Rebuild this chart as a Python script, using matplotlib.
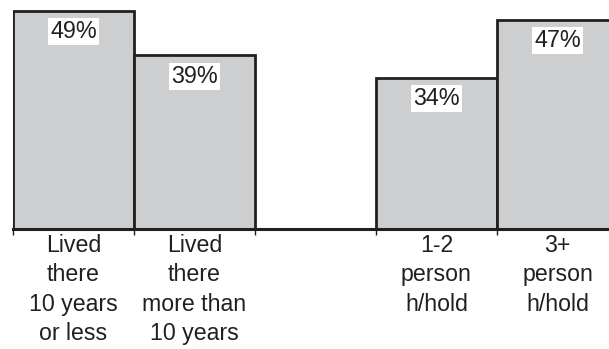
import matplotlib
matplotlib.use("Agg")
import matplotlib.pyplot as plt

# Share of respondents by group
categories = [
    "Lived\nthere\n10 years\nor less",
    "Lived\nthere\nmore than\n10 years",
    "1-2\nperson\nh/hold",
    "3+\nperson\nh/hold",
]
values = [49, 39, 34, 47]
positions = [0, 1, 3, 4]  # slot 2 left empty as a gap between the two groups

ink = "#231f20"
fill = "#cdced0"

plt.rcParams["font.family"] = ["Liberation Sans", "DejaVu Sans"]

fig = plt.figure(figsize=(6.09, 3.49), dpi=100)
W, H = 609, 349
ax = fig.add_axes([13 / W, 120 / H, 605 / W, 229 / H])

ax.bar(positions, values, width=1.0, align="edge", color=fill,
       edgecolor=ink, linewidth=2.0)

ax.set_xlim(0, 5)
ax.set_ylim(0, 51.46)

for s in ("left", "right", "top"):
    ax.spines[s].set_visible(False)
ax.spines["bottom"].set_color(ink)
ax.spines["bottom"].set_linewidth(2.2)

ax.set_yticks([])
ax.set_xticks([0, 1, 2, 3, 4])
ax.set_xticklabels([])
ax.tick_params(axis="x", length=4, width=1.0, color=ink, direction="out")

for p, v, lab in zip(positions, values, categories):
    ax.annotate(f"{v}%", xy=(p + 0.5, v), xytext=(0, -15),
                textcoords="offset points", ha="center", va="center",
                fontsize=16.8, color=ink,
                bbox=dict(boxstyle="square,pad=0.08", fc="white", ec="none"))
    ax.annotate(lab, xy=(p + 0.5, 0), xytext=(0, -3.5),
                textcoords="offset points", ha="center", va="top",
                fontsize=16.7, color=ink, linespacing=1.36,
                multialignment="center", annotation_clip=False)

fig.savefig("out.png", dpi=100)
